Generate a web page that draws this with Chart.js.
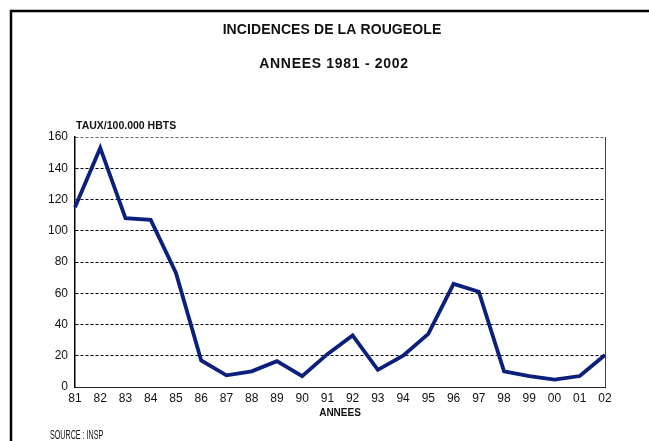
<!DOCTYPE html>
<html>
<head>
<meta charset="utf-8">
<script src="https://cdn.jsdelivr.net/npm/chart.js@4.4.0/dist/chart.umd.min.js"></script>
<style>
  html,body{margin:0;padding:0;background:#fff;}
  #wrap{width:649px;height:441px;}
</style>
</head>
<body>
<div id="wrap"><canvas id="chart" width="649" height="441"></canvas></div>
<script>
// data
const years=["81","82","83","84","85","86","87","88","89","90","91","92","93","94","95","96","97","98","99","00","01","02"];
const incidence=[115,153,108,107,73,17,7.5,10,16.5,7,21,33,11,20,34,66,61,10,7,4.7,7,20.5];
const yTicks=[0,20,40,60,80,100,120,140,160];

const mainTitle="INCIDENCES DE LA ROUGEOLE";
const subTitle="ANNEES 1981 - 2002";
const yTitle="TAUX/100.000 HBTS";
const xTitle="ANNEES";
const source="SOURCE : INSP";

const decor={
    id:"decor",
    beforeDraw(chart){
        const c=chart.ctx;
        c.save();
        c.fillStyle="#fff";
        c.fillRect(0,0,chart.width,chart.height);
        // outer frame (open at right/bottom)
        c.strokeStyle="#000";
        c.lineWidth=2.5;
        c.beginPath();
        c.moveTo(11,441);
        c.lineTo(11,11);
        c.lineTo(649,11);
        c.stroke();
        c.restore();
    },
    afterDraw(chart){
        const c=chart.ctx;
        const a=chart.chartArea;
        c.save();
        // right border of plot
        c.strokeStyle="#444";
        c.lineWidth=1;
        c.beginPath();
        c.moveTo(a.right+0.5,a.top);
        c.lineTo(a.right+0.5,a.bottom);
        c.stroke();
        c.fillStyle="#111";
        c.textAlign="center";
        c.textBaseline="middle";
        c.font="bold 14px 'Liberation Sans',Arial,sans-serif";
        c.letterSpacing="0.1px";
        c.fillText(mainTitle,332,30);
        c.letterSpacing="0.7px";
        c.fillText(subTitle,334,64);
        c.letterSpacing="0px";
        c.font="bold 10.5px 'Liberation Sans',Arial,sans-serif";
        c.textAlign="left";
        c.fillText(yTitle,76,126);
        c.font="bold 10px 'Liberation Sans',Arial,sans-serif";
        c.textAlign="center";
        c.fillText(xTitle,(a.left+a.right)/2,413);
        // condensed source note
        c.font="13px 'Liberation Sans',Arial,sans-serif";
        c.textAlign="left";
        c.translate(50,435);
        c.scale(0.55,1);
        c.fillText(source,0,0);
        c.restore();
    }
};

new Chart(document.getElementById("chart"),{
    type:"line",
    data:{
        labels:years,
        datasets:[{
            data:incidence,
            borderColor:"#0b1f7c",
            borderWidth:3.8,
            pointRadius:0,
            tension:0,
            fill:false
        }]
    },
    options:{
        responsive:false,
        animation:false,
        layout:{padding:{left:0,right:44,top:137,bottom:0}},
        plugins:{legend:{display:false},tooltip:{enabled:false},title:{display:false}},
        scales:{
            x:{
                offset:false,
                grid:{display:false,drawTicks:false},
                border:{display:true,color:"#222",width:1,dash:[2,1]},
                ticks:{color:"#111",font:{size:12,family:"'Liberation Sans',Arial,sans-serif"},padding:4,maxRotation:0,autoSkip:false},
                afterFit(s){s.height=54;}
            },
            y:{
                min:0,max:160,
                afterBuildTicks(s){s.ticks=yTicks.map(v=>({value:v}));},
                grid:{color:function(ctx){return ctx.tick&&ctx.tick.value===160?"#666":"#000";},lineWidth:1,drawTicks:false},
                border:{display:true,color:"#000",width:1.5,dash:[3,2]},
                ticks:{color:"#111",font:{size:12,family:"'Liberation Sans',Arial,sans-serif"},padding:7},
                afterFit(s){s.width=75;}
            }
        }
    },
    plugins:[decor]
});
</script>
</body>
</html>
